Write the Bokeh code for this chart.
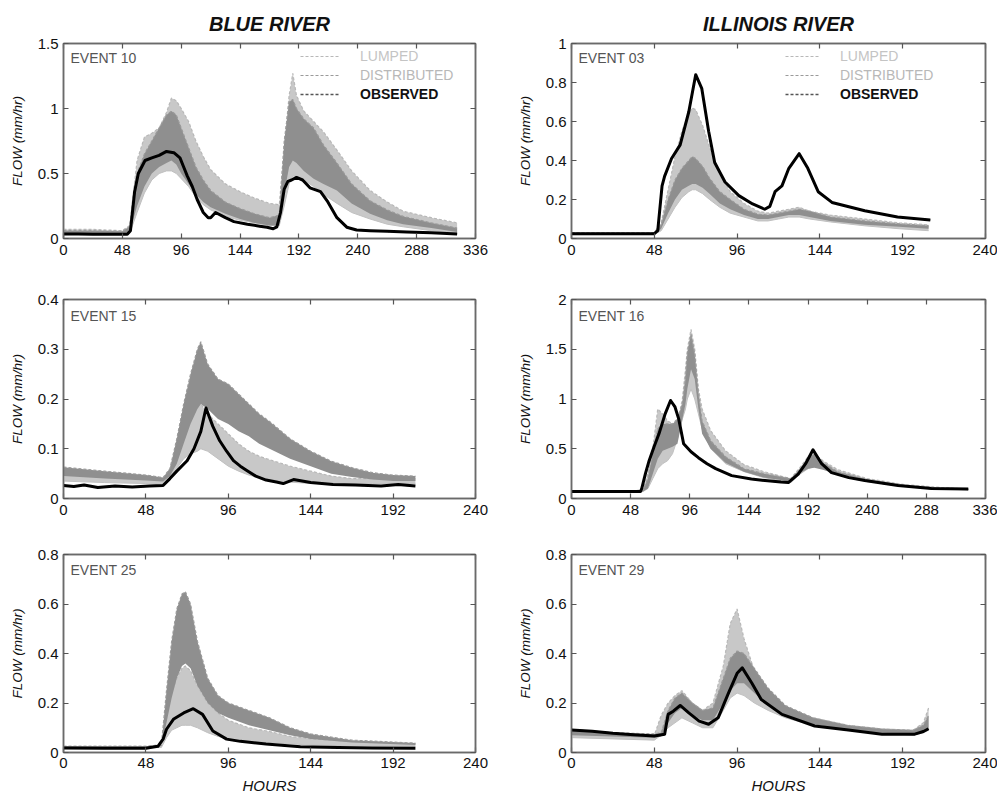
from bokeh.plotting import figure
from bokeh.layouts import column, row
from bokeh.models import Range1d, FixedTicker, LinearAxis, Label, Legend, LegendItem
from bokeh.embed import file_html
from bokeh.resources import INLINE

FONT = "Liberation Sans"
LUMP_COLOR = "#c8c8c8"
DIST_COLOR = "#8f8f8f"
OBS_COLOR = "#000000"

# ---------------- tick definitions ----------------
x_ticks_336 = [0, 48, 96, 144, 192, 240, 288, 336]
x_ticks_240 = [0, 48, 96, 144, 192, 240]
y_ticks_e10 = [0, 0.5, 1, 1.5]
y_labels_e10 = ["0", "0.5", "1", "1.5"]
y_ticks_e03 = [0, 0.2, 0.4, 0.6, 0.8, 1]
y_labels_e03 = ["0", "0.2", "0.4", "0.6", "0.8", "1"]
y_ticks_e15 = [0, 0.1, 0.2, 0.3, 0.4]
y_labels_e15 = ["0", "0.1", "0.2", "0.3", "0.4"]
y_ticks_e16 = [0, 0.5, 1, 1.5, 2]
y_labels_e16 = ["0", "0.5", "1", "1.5", "2"]
y_ticks_08 = [0, 0.2, 0.4, 0.6, 0.8]
y_labels_08 = ["0", "0.2", "0.4", "0.6", "0.8"]

# ---------------- EVENT 10 (Blue River) ----------------
e10_obs_h = [0, 12, 24, 36, 48, 52, 54.6, 58, 61, 66.5, 72, 78, 84, 90, 95, 98, 101, 105, 109, 114, 118,
             120, 124, 132, 139, 150, 160, 166, 171, 174, 177, 180, 183, 186, 190, 195, 201, 209.6, 215, 223,
             231, 239, 250, 264, 280, 300, 321]
e10_obs_q = [0.035, 0.034, 0.033, 0.032, 0.032, 0.033, 0.06, 0.36, 0.5, 0.6, 0.62, 0.64, 0.67, 0.66, 0.62,
             0.55, 0.48, 0.4, 0.3, 0.2, 0.16, 0.16, 0.2, 0.16, 0.13, 0.11, 0.095, 0.087, 0.075, 0.09, 0.2,
             0.38, 0.44, 0.45, 0.47, 0.45, 0.39, 0.36, 0.29, 0.16, 0.087, 0.065, 0.06, 0.055, 0.05, 0.045,
             0.035]
e10_h = [0, 24, 48, 54, 60, 66, 72, 78, 84, 88, 92, 96, 102, 108, 114, 120, 132, 144, 156, 168, 176, 180, 184,
         187, 190, 196, 204, 212, 223, 235, 250, 264, 277, 300, 321]
e10_lump_lo = [0.03, 0.03, 0.03, 0.04, 0.2, 0.35, 0.45, 0.5, 0.52, 0.52, 0.5, 0.46, 0.4, 0.32, 0.26, 0.22,
               0.17, 0.14, 0.12, 0.1, 0.1, 0.25, 0.42, 0.48, 0.48, 0.45, 0.4, 0.34, 0.27, 0.2, 0.15, 0.11,
               0.09, 0.06, 0.04]
e10_lump_hi = [0.07, 0.07, 0.06, 0.1, 0.6, 0.78, 0.81, 0.85, 0.97, 1.08, 1.06, 1.0, 0.9, 0.75, 0.63, 0.53,
               0.42, 0.36, 0.31, 0.27, 0.26, 0.7, 1.1, 1.27, 1.1, 0.98, 0.9, 0.82, 0.68, 0.52, 0.37, 0.28,
               0.21, 0.16, 0.12]
e10_dist_lo = [0.04, 0.04, 0.035, 0.05, 0.25, 0.4, 0.5, 0.55, 0.58, 0.6, 0.57, 0.5, 0.42, 0.34, 0.28, 0.24,
               0.19, 0.15, 0.12, 0.1, 0.1, 0.35, 0.55, 0.6, 0.58, 0.52, 0.46, 0.42, 0.37, 0.27, 0.19, 0.14,
               0.11, 0.08, 0.05]
e10_dist_hi = [0.06, 0.06, 0.055, 0.09, 0.5, 0.65, 0.75, 0.85, 0.95, 0.98, 0.95, 0.85, 0.7, 0.55, 0.45, 0.37,
               0.28, 0.23, 0.19, 0.16, 0.18, 0.75, 1.05, 1.07, 1.0, 0.92, 0.85, 0.72, 0.58, 0.42, 0.29, 0.22,
               0.17, 0.12, 0.08]

# ---------------- EVENT 03 (Illinois River) ----------------
e03_obs_h = [0, 24, 48, 50, 52.5, 54, 58, 63, 68, 72, 75.5, 79.5, 83, 89, 97, 105, 112, 115, 118, 122, 126,
             132, 137, 143, 151, 170, 189, 208]
e03_obs_q = [0.025, 0.025, 0.025, 0.04, 0.27, 0.32, 0.41, 0.48, 0.65, 0.84, 0.77, 0.55, 0.39, 0.29, 0.22,
             0.177, 0.15, 0.165, 0.24, 0.27, 0.36, 0.435, 0.36, 0.24, 0.185, 0.142, 0.11, 0.095]
e03_h = [0, 24, 48, 52, 56, 60, 64, 68, 70, 72, 76, 80, 86, 92, 100, 108, 114, 120, 126, 132, 138, 150, 170,
         190, 207]
e03_lump_lo = [0.02, 0.02, 0.02, 0.04, 0.1, 0.16, 0.21, 0.24, 0.25, 0.25, 0.23, 0.2, 0.16, 0.13, 0.11, 0.09,
               0.09, 0.1, 0.11, 0.11, 0.1, 0.085, 0.065, 0.05, 0.04]
e03_lump_hi = [0.03, 0.03, 0.03, 0.08, 0.25, 0.42, 0.55, 0.64, 0.67, 0.66, 0.58, 0.47, 0.33, 0.24, 0.18,
               0.14, 0.13, 0.14, 0.15, 0.16, 0.14, 0.12, 0.1, 0.08, 0.07]
e03_dist_lo = [0.02, 0.02, 0.02, 0.05, 0.13, 0.2, 0.25, 0.27, 0.28, 0.28, 0.26, 0.23, 0.18, 0.15, 0.12, 0.1,
               0.1, 0.11, 0.12, 0.12, 0.11, 0.09, 0.07, 0.06, 0.05]
e03_dist_hi = [0.03, 0.03, 0.03, 0.07, 0.2, 0.3, 0.36, 0.4, 0.42, 0.41, 0.37, 0.31, 0.24, 0.2, 0.15, 0.125,
               0.12, 0.13, 0.14, 0.15, 0.14, 0.11, 0.09, 0.075, 0.065]

# ---------------- EVENT 15 (Blue River) ----------------
e15_obs_h = [0, 6, 12, 20, 30, 40, 50, 58, 62, 66, 72, 76, 80, 83, 87, 91, 95, 99, 103, 107, 112, 118, 124,
             128, 134, 144, 157, 170, 185, 195, 205]
e15_obs_q = [0.026, 0.024, 0.027, 0.022, 0.025, 0.023, 0.025, 0.026, 0.04, 0.055, 0.076, 0.1, 0.135, 0.182,
             0.145, 0.116, 0.095, 0.076, 0.065, 0.056, 0.045, 0.037, 0.033, 0.03, 0.038, 0.032, 0.028, 0.027,
             0.025, 0.028, 0.025]
e15_h = [0, 24, 48, 58, 62, 66, 70, 74, 78, 80, 84, 90, 96, 102, 108, 114, 120, 132, 144, 156, 168, 180, 192,
         205]
e15_lump_lo = [0.035, 0.032, 0.03, 0.028, 0.04, 0.06, 0.08, 0.09, 0.095, 0.1, 0.095, 0.08, 0.065, 0.055,
               0.047, 0.042, 0.038, 0.033, 0.03, 0.03, 0.03, 0.03, 0.03, 0.03]
e15_lump_hi = [0.05, 0.045, 0.04, 0.036, 0.06, 0.1, 0.15, 0.18, 0.19, 0.19, 0.17, 0.15, 0.13, 0.11, 0.095,
               0.085, 0.078, 0.065, 0.055, 0.045, 0.04, 0.04, 0.04, 0.04]
e15_dist_lo = [0.045, 0.04, 0.036, 0.034, 0.045, 0.07, 0.11, 0.15, 0.18, 0.19, 0.18, 0.16, 0.15, 0.135,
               0.125, 0.11, 0.1, 0.08, 0.065, 0.05, 0.043, 0.038, 0.035, 0.035]
e15_dist_hi = [0.063, 0.055, 0.047, 0.042, 0.06, 0.12, 0.19, 0.25, 0.3, 0.315, 0.27, 0.24, 0.23, 0.21, 0.19,
               0.17, 0.155, 0.12, 0.095, 0.075, 0.062, 0.052, 0.047, 0.045]

# ---------------- EVENT 16 (Illinois River) ----------------
e16_obs_h = [0, 24, 48, 56, 57, 60, 63, 67, 71, 76, 80.4, 84, 87, 91, 97, 103, 110, 117, 130, 146, 157, 170,
             176, 184, 190, 196, 203, 211, 225, 238, 265, 292, 322]
e16_obs_q = [0.07, 0.07, 0.07, 0.07, 0.1, 0.25, 0.38, 0.52, 0.65, 0.85, 0.985, 0.92, 0.8, 0.55, 0.47, 0.41,
             0.35, 0.3, 0.23, 0.195, 0.18, 0.165, 0.16, 0.245, 0.35, 0.49, 0.35, 0.26, 0.21, 0.18, 0.13, 0.1,
             0.095]
e16_h = [0, 48, 58, 62, 66, 70, 74, 78, 82, 86, 90, 92.5, 94, 97, 100, 103, 106, 113, 125, 140, 156, 178,
         186, 192, 197, 204, 216, 240, 270, 300, 322]
e16_lump_lo = [0.06, 0.06, 0.07, 0.1, 0.2, 0.3, 0.35, 0.38, 0.45, 0.6, 0.8, 0.9, 1.0, 1.1, 1.0, 0.85, 0.7,
               0.5, 0.35, 0.27, 0.21, 0.16, 0.25, 0.3, 0.32, 0.3, 0.24, 0.17, 0.12, 0.1, 0.085]
e16_lump_hi = [0.07, 0.07, 0.09, 0.25, 0.5, 0.9, 0.85, 0.78, 0.75, 0.75, 1.0, 1.3, 1.5, 1.7, 1.5, 1.1, 0.9,
               0.68, 0.48, 0.34, 0.27, 0.2, 0.32, 0.42, 0.45, 0.38, 0.29, 0.2, 0.14, 0.11, 0.095]
e16_dist_lo = [0.065, 0.065, 0.07, 0.1, 0.25, 0.4, 0.48, 0.5, 0.52, 0.55, 0.8, 0.95, 1.1, 1.3, 1.2, 0.9, 0.65,
               0.5, 0.36, 0.27, 0.21, 0.17, 0.26, 0.3, 0.31, 0.29, 0.24, 0.17, 0.12, 0.1, 0.085]
e16_dist_hi = [0.07, 0.07, 0.08, 0.2, 0.45, 0.7, 0.75, 0.75, 0.75, 0.8, 0.95, 1.2, 1.45, 1.65, 1.45, 1.05,
               0.78, 0.58, 0.42, 0.3, 0.25, 0.2, 0.3, 0.4, 0.45, 0.36, 0.27, 0.19, 0.13, 0.105, 0.09]

# ---------------- EVENT 25 (Blue River) ----------------
e25_obs_h = [0, 24, 48, 55, 58, 60, 64, 70, 75.6, 81, 87, 95, 103, 118, 138, 160, 180, 205]
e25_obs_q = [0.018, 0.017, 0.017, 0.025, 0.054, 0.094, 0.134, 0.16, 0.177, 0.154, 0.087, 0.054, 0.045,
             0.034, 0.023, 0.02, 0.018, 0.017]
e25_h = [0, 24, 48, 57, 60, 63, 66, 69, 71, 74, 78, 84, 90, 96, 108, 120, 132, 144, 168, 205]
e25_lump_lo = [0.02, 0.02, 0.02, 0.02, 0.06, 0.09, 0.1, 0.11, 0.11, 0.11, 0.1, 0.08, 0.065, 0.055, 0.045,
               0.04, 0.035, 0.03, 0.027, 0.025]
e25_lump_hi = [0.025, 0.025, 0.025, 0.03, 0.15, 0.24, 0.3, 0.34, 0.35, 0.33, 0.27, 0.2, 0.16, 0.13, 0.1,
               0.085, 0.065, 0.055, 0.045, 0.035]
e25_dist_lo = [0.02, 0.02, 0.02, 0.025, 0.12, 0.22, 0.3, 0.35, 0.36, 0.34, 0.27, 0.2, 0.16, 0.14, 0.11, 0.09,
               0.07, 0.055, 0.04, 0.03]
e25_dist_hi = [0.025, 0.025, 0.025, 0.03, 0.25, 0.45, 0.58, 0.64, 0.65, 0.6, 0.45, 0.3, 0.23, 0.2, 0.17,
               0.14, 0.1, 0.075, 0.05, 0.038]

# ---------------- EVENT 29 (Illinois River) ----------------
e29_obs_h = [0, 12, 24, 36, 48, 54, 56, 59, 63, 68, 74, 79.5, 85, 91, 96, 99, 104.6, 110, 122, 141, 160.5,
             180, 199, 204, 207]
e29_obs_q = [0.091, 0.086, 0.078, 0.072, 0.067, 0.074, 0.154, 0.167, 0.19, 0.16, 0.127, 0.114, 0.14, 0.24,
             0.32, 0.342, 0.28, 0.214, 0.154, 0.107, 0.091, 0.074, 0.074, 0.085, 0.096]
e29_h = [0, 24, 48, 52, 56, 60, 64, 70, 76, 82, 88, 92, 96, 100, 106, 114, 124, 140, 160, 180, 198, 204, 207]
e29_lump_lo = [0.06, 0.055, 0.05, 0.07, 0.1, 0.12, 0.14, 0.12, 0.1, 0.1, 0.17, 0.22, 0.24, 0.23, 0.2, 0.17,
               0.14, 0.11, 0.09, 0.08, 0.07, 0.08, 0.09]
e29_lump_hi = [0.085, 0.075, 0.07, 0.15, 0.2, 0.23, 0.25, 0.2, 0.17, 0.2, 0.35, 0.52, 0.58, 0.46, 0.33, 0.24,
               0.18, 0.14, 0.11, 0.095, 0.09, 0.12, 0.18]
e29_dist_lo = [0.07, 0.065, 0.06, 0.065, 0.12, 0.16, 0.18, 0.15, 0.13, 0.13, 0.2, 0.25, 0.28, 0.28, 0.24,
               0.19, 0.15, 0.115, 0.09, 0.08, 0.075, 0.085, 0.1]
e29_dist_hi = [0.09, 0.08, 0.075, 0.08, 0.17, 0.22, 0.24, 0.2, 0.17, 0.18, 0.3, 0.38, 0.41, 0.4, 0.34, 0.26,
               0.19, 0.14, 0.11, 0.095, 0.09, 0.11, 0.15]


def make_panel(width, height, bl, br, bt, bb, xmax, xticks, ymax, yticks, ylabels, event, event_top,
               obs_h, obs_q, h, lump_lo, lump_hi, dist_lo, dist_hi,
               title=None, legend_x=None, legend_glyph_w=40, xlabel=None, x_standoff=6):
    p = figure(width=width, height=height, output_backend="svg", toolbar_location=None,
               x_range=Range1d(0, xmax), y_range=Range1d(0, ymax),
               min_border_left=bl, min_border_right=br, min_border_top=bt, min_border_bottom=bb,
               x_axis_location=None, y_axis_location=None)
    p.grid.visible = False
    p.outline_line_color = "#6a6a6a"
    p.outline_line_width = 1.5
    p.background_fill_color = "white"
    p.border_fill_color = "white"

    frame_h = height - bt - bb

    xa = LinearAxis(ticker=FixedTicker(ticks=xticks))
    ya = LinearAxis(ticker=FixedTicker(ticks=yticks),
                    major_label_overrides={t: s for t, s in zip(yticks, ylabels)})
    xt = LinearAxis(ticker=FixedTicker(ticks=xticks))
    yr = LinearAxis(ticker=FixedTicker(ticks=yticks))
    for ax in (xa, ya, xt, yr):
        ax.major_tick_in = 5
        ax.major_tick_out = 0
        ax.minor_tick_line_color = None
        ax.major_tick_line_color = "#555555"
        ax.major_tick_line_width = 1.2
        ax.axis_line_color = "#6a6a6a"
        ax.axis_line_width = 1.5
        ax.major_label_text_font = FONT
        ax.major_label_text_font_size = "15px"
        ax.major_label_text_color = "#111111"
    for ax in (xt, yr):
        ax.major_label_text_font_size = "1px"
        ax.major_label_text_color = None
        ax.major_label_standoff = 0
    xa.major_label_standoff = x_standoff
    ya.major_label_standoff = 5
    ya.axis_label = "FLOW (mm/hr)"
    ya.axis_label_text_font = FONT
    ya.axis_label_text_font_size = "13.5px"
    ya.axis_label_text_font_style = "italic"
    ya.axis_label_text_color = "#111111"
    ya.axis_label_standoff = 10
    if xlabel:
        xa.axis_label = xlabel
        xa.axis_label_text_font = FONT
        xa.axis_label_text_font_size = "15px"
        xa.axis_label_text_font_style = "italic"
        xa.axis_label_text_color = "#111111"
        xa.axis_label_standoff = 6
    p.add_layout(xa, "below")
    p.add_layout(ya, "left")
    p.add_layout(xt, "above")
    p.add_layout(yr, "right")

    if title:
        p.title.text = title
        p.title.align = "center"
        p.title.text_font = FONT
        p.title.text_font_size = "20px"
        p.title.text_font_style = "bold italic"
        p.title.text_color = "#111111"
        p.title.standoff = 17

    # lumped ensemble (light) with a dashed outline used as its legend sample
    p.varea(x=h, y1=lump_lo, y2=lump_hi, fill_color=LUMP_COLOR)
    r_lump = p.line(x=h, y=lump_hi, line_color="#b8b8b8", line_width=1.2, line_dash="3 2")
    p.line(x=h, y=lump_lo, line_color="#c0c0c0", line_width=1)
    # distributed ensemble (dark)
    p.varea(x=h, y1=dist_lo, y2=dist_hi, fill_color=DIST_COLOR)
    r_dist = p.line(x=h, y=dist_hi, line_color="#9a9a9a", line_width=1.2, line_dash="3 2")
    # observed: thin dashed sample line hidden beneath the thick observed line
    r_obs = p.line(x=obs_h, y=obs_q, line_color="#555555", line_width=1.5, line_dash="3 2")
    p.line(x=obs_h, y=obs_q, line_color=OBS_COLOR, line_width=3, line_join="round")

    p.add_layout(Label(x=7, y=frame_h - event_top, x_units="screen", y_units="screen", text=event,
                       text_baseline="middle", text_font=FONT, text_font_size="14px",
                       text_color="#555555"))

    if legend_x is not None:
        specs = [("LUMPED", r_lump, "#c4c4c4", "normal"),
                 ("DISTRIBUTED", r_dist, "#b8b8b8", "normal"),
                 ("OBSERVED", r_obs, "#111111", "bold")]
        centers = [13, 32, 51]
        for (lab, r, tcol, style), c in zip(specs, centers):
            leg = Legend(items=[LegendItem(label=lab, renderers=[r])],
                         location=(legend_x, frame_h - c - 8),
                         padding=0, margin=0, spacing=0, label_standoff=20,
                         glyph_width=legend_glyph_w, glyph_height=16, label_height=16,
                         label_text_font=FONT, label_text_font_size="14px",
                         label_text_color=tcol, label_text_font_style=style,
                         border_line_alpha=0, background_fill_alpha=0)
            p.add_layout(leg)
    return p


LW, RW = 495, 502
LBL, LBR, RBL, RBR = 63, 20, 76, 12

p1 = make_panel(LW, 269, LBL, LBR, 43, 31, 336, x_ticks_336, 1.5, y_ticks_e10, y_labels_e10, "EVENT 10", 14,
                e10_obs_h, e10_obs_q, e10_h, e10_lump_lo, e10_lump_hi, e10_dist_lo, e10_dist_hi,
                title="BLUE RIVER", legend_x=237, legend_glyph_w=40)
p2 = make_panel(RW, 269, RBL, RBR, 43, 31, 240, x_ticks_240, 1, y_ticks_e03, y_labels_e03, "EVENT 03", 14,
                e03_obs_h, e03_obs_q, e03_h, e03_lump_lo, e03_lump_hi, e03_dist_lo, e03_dist_hi,
                title="ILLINOIS RIVER", legend_x=214, legend_glyph_w=35)
p3 = make_panel(LW, 256, LBL, LBR, 30, 27, 240, x_ticks_240, 0.4, y_ticks_e15, y_labels_e15, "EVENT 15", 16,
                e15_obs_h, e15_obs_q, e15_h, e15_lump_lo, e15_lump_hi, e15_dist_lo, e15_dist_hi)
p4 = make_panel(RW, 256, RBL, RBR, 30, 27, 336, x_ticks_336, 2, y_ticks_e16, y_labels_e16, "EVENT 16", 16,
                e16_obs_h, e16_obs_q, e16_h, e16_lump_lo, e16_lump_hi, e16_dist_lo, e16_dist_hi)
p5 = make_panel(LW, 271, LBL, LBR, 29, 43, 240, x_ticks_240, 0.8, y_ticks_08, y_labels_08, "EVENT 25", 16,
                e25_obs_h, e25_obs_q, e25_h, e25_lump_lo, e25_lump_hi, e25_dist_lo, e25_dist_hi,
                xlabel="HOURS", x_standoff=5)
p6 = make_panel(RW, 271, RBL, RBR, 29, 43, 240, x_ticks_240, 0.8, y_ticks_08, y_labels_08, "EVENT 29", 16,
                e29_obs_h, e29_obs_q, e29_h, e29_lump_lo, e29_lump_hi, e29_dist_lo, e29_dist_hi,
                xlabel="HOURS", x_standoff=5)

layout = column(row(p1, p2), row(p3, p4), row(p5, p6))

with open("out.html", "w") as f:
    f.write(file_html(layout, INLINE))
